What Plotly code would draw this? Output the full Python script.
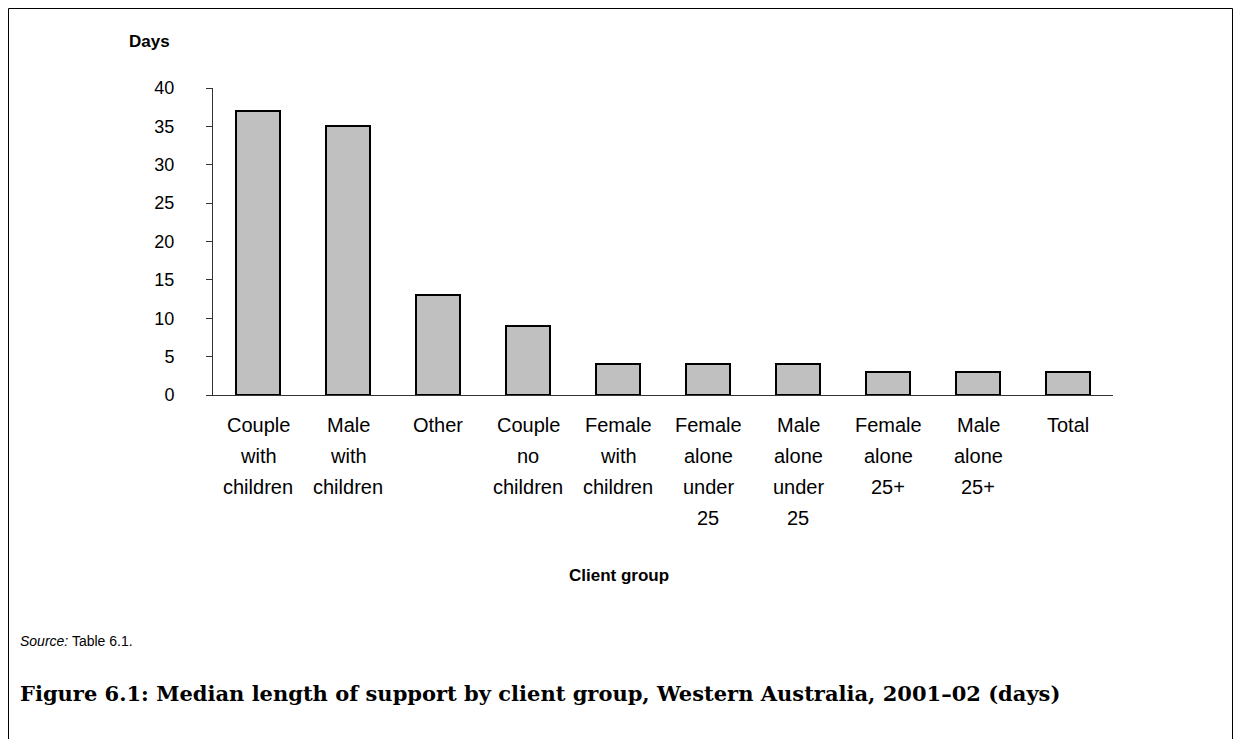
import plotly.graph_objects as go

categories = ["Couple with children", "Male with children", "Other", "Couple no children",
              "Female with children", "Female alone under 25", "Male alone under 25",
              "Female alone 25+", "Male alone 25+", "Total"]
label_lines = [["Couple", "with", "children"], ["Male", "with", "children"], ["Other"],
               ["Couple", "no", "children"], ["Female", "with", "children"],
               ["Female", "alone", "under", "25"], ["Male", "alone", "under", "25"],
               ["Female", "alone", "25+"], ["Male", "alone", "25+"], ["Total"]]
days = [37, 35, 13, 9, 4, 4, 4, 3, 3, 3]
y_ticks = [0, 5, 10, 15, 20, 25, 30, 35, 40]

OFF = 8  # page body margin
W, H = 1241 - OFF * 2, 747 - OFF * 2
L, R, T, B = 213 - OFF, 1113 - OFF, 88 - OFF, 395 - OFF
pw, ph = R - L, B - T

def px(x):
    return (x - OFF - L) / pw

def py(y):
    return (B - (y - OFF)) / ph

def fx(x):  # figure pixel -> paper
    return (x - L) / pw

def fy(y):
    return (B - y) / ph

FONT = "Liberation Sans, Arial, sans-serif"

fig = go.Figure()
fig.add_trace(go.Bar(x=categories, y=days, width=0.49,
                     marker=dict(color="#c0c0c0", line=dict(color="black", width=2))))

fig.update_layout(
    width=W, height=H,
    margin=dict(l=L, r=W - R, t=T, b=H - B, pad=0),
    paper_bgcolor="white", plot_bgcolor="white",
    showlegend=False,
    font=dict(family=FONT, color="black"),
    bargap=0,
)
fig.update_xaxes(showticklabels=False, showgrid=False, showline=True,
                 linecolor="#333", linewidth=1, ticks="", zeroline=False,
                 range=[-0.5, 9.5])
fig.update_yaxes(range=[0, 40], tickvals=y_ticks, showgrid=False, showline=True,
                 linecolor="#333", linewidth=1, ticks="outside", ticklen=6,
                 tickcolor="#333", ticklabelstandoff=28, zeroline=False,
                 tickfont=dict(size=18, family=FONT))

# category labels, one line per annotation
for i, lines in enumerate(label_lines):
    for j, ln in enumerate(lines):
        fig.add_annotation(x=categories[i], xref="x", y=py(425 + 31 * j), yref="paper",
                           text=ln, showarrow=False, xanchor="center", yanchor="middle",
                           font=dict(size=20, family=FONT))

fig.add_annotation(x=px(149), xref="paper", y=py(42), yref="paper", text="<b>Days</b>",
                   showarrow=False, xanchor="center", yanchor="middle",
                   font=dict(size=17, family=FONT))
fig.add_annotation(x=px(619), xref="paper", y=py(575), yref="paper", text="<b>Client group</b>",
                   showarrow=False, xanchor="center", yanchor="middle",
                   font=dict(size=17, family=FONT))
fig.add_annotation(x=px(18), xref="paper", y=py(641), yref="paper",
                   text="<i>Source:</i> Table 6.1.", showarrow=False,
                   xanchor="left", yanchor="middle", font=dict(size=14, family=FONT))
fig.add_annotation(x=px(18), xref="paper", y=py(693), yref="paper",
                   text="<b>Figure 6.1: Median length of support by client group, Western Australia, 2001\u201302 (days)</b>",
                   showarrow=False, xanchor="left", yanchor="middle",
                   font=dict(size=21, family="DejaVu Serif, serif"))

# frame (open at the bottom)
fig.add_shape(type="rect", xref="paper", yref="paper",
              x0=fx(0.5), x1=fx(W - 0.5), y0=fy(H + 20), y1=fy(0.5),
              line=dict(color="black", width=1), fillcolor="rgba(0,0,0,0)")

fig.write_html("out.html")
